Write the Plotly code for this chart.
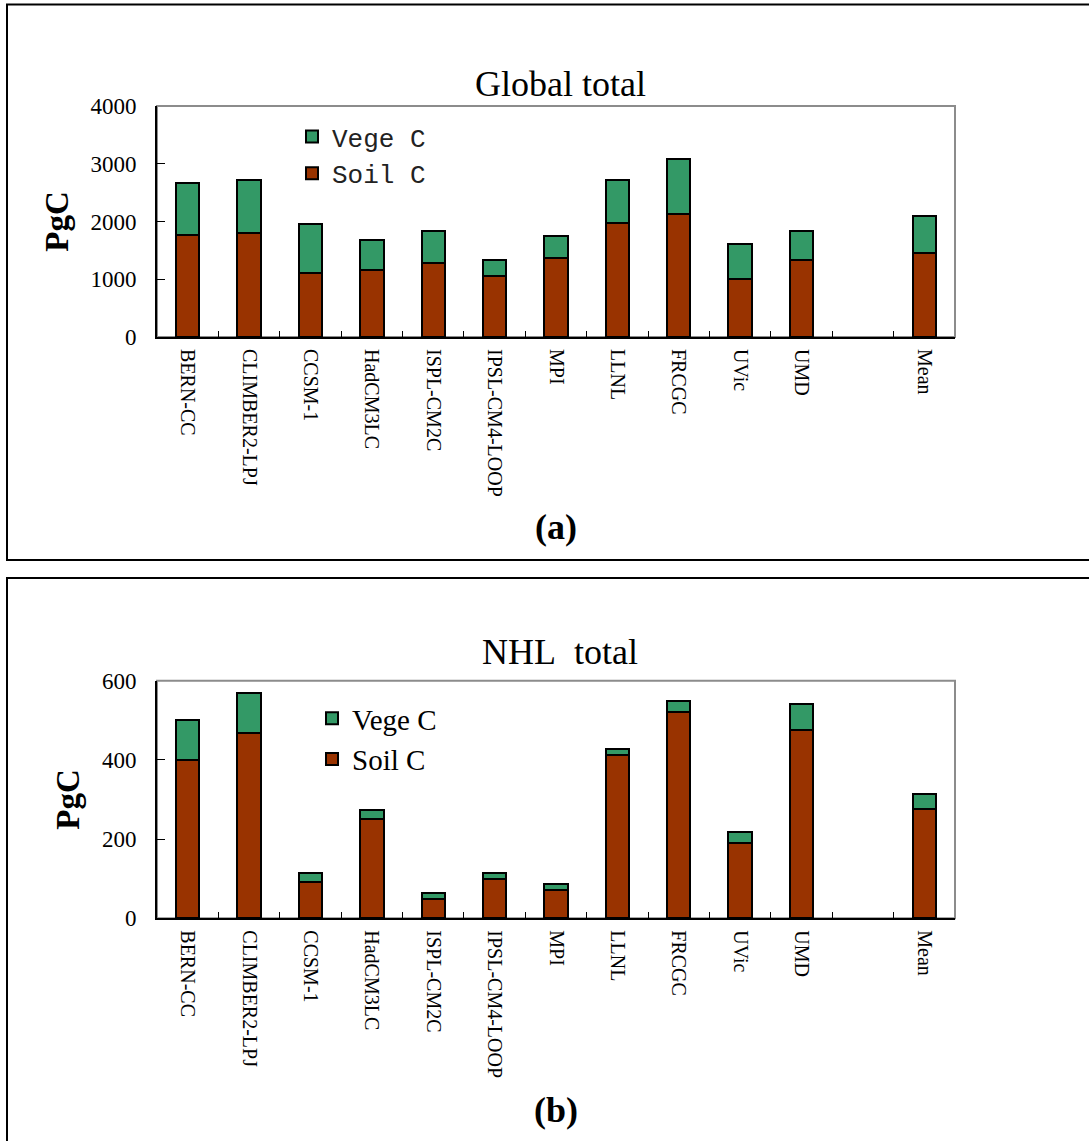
import plotly.graph_objects as go

# Models (one blank slot separates the ensemble mean)
models = ["BERN-CC", "CLIMBER2-LPJ", "CCSM-1", "HadCM3LC", "ISPL-CM2C",
          "IPSL-CM4-LOOP", "MPI", "LLNL", "FRCGC", "UVic", "UMD", " ", "Mean"]

# Global carbon stocks (PgC)
global_soil = [1770, 1800, 1100, 1160, 1280, 1060, 1370, 1980, 2130, 1000, 1335, None, 1455]
global_vege = [890, 920, 850, 520, 550, 280, 375, 740, 950, 610, 495, None, 645]

# Northern high latitude carbon stocks (PgC)
nhl_soil = [400, 468, 91, 250, 50, 100, 72, 413, 522, 191, 476, None, 277]
nhl_vege = [100, 100, 24, 23, 15, 15, 15, 14, 28, 27, 65, None, 37]

global_ticks = [0, 1000, 2000, 3000, 4000]
nhl_ticks = [0, 200, 400, 600]

W, H = 1089, 1141
SOIL = "#993300"
VEGE = "#339966"
SERIF = "Liberation Serif"


def px(x):
    return x / W


def py(y):
    return 1 - y / H


fig = go.Figure()

panels = [
    dict(soil=global_soil, vege=global_vege, xa="x", ya="y", leg="legend"),
    dict(soil=nhl_soil, vege=nhl_vege, xa="x2", ya="y2", leg="legend2"),
]
for p in panels:
    fig.add_trace(go.Bar(x=models, y=p["soil"], name="Soil C", xaxis=p["xa"], yaxis=p["ya"],
                         marker=dict(color=SOIL, line=dict(color="black", width=2)),
                         legend=p["leg"]))
    fig.add_trace(go.Bar(x=models, y=p["vege"], name="Vege C", xaxis=p["xa"], yaxis=p["ya"],
                         marker=dict(color=VEGE, line=dict(color="black", width=2)),
                         legend=p["leg"]))

x_dom = [px(157), px(955)]
xaxis_common = dict(
    type="category", categoryorder="array", categoryarray=models,
    tickson="boundaries", ticks="inside", ticklen=6, tickcolor="black", tickwidth=1,
    tickangle=90, tickfont=dict(family=SERIF, size=20, color="black"),
    showline=True, linecolor="black", linewidth=2, showgrid=False, zeroline=False,
    ticklabelstandoff=6, domain=x_dom, automargin=False,
)
yaxis_common = dict(
    ticks="inside", ticklen=8, tickcolor="black", tickwidth=1,
    tickfont=dict(family=SERIF, size=23, color="black"),
    showline=True, linecolor="black", linewidth=2, showgrid=False, zeroline=False,
    ticklabelstandoff=14, automargin=False,
    title=dict(text="<b>PgC</b>", font=dict(family=SERIF, size=33, color="black"), standoff=12),
)

fig.update_layout(
    width=W, height=H,
    margin=dict(l=0, r=0, t=0, b=0, autoexpand=False),
    paper_bgcolor="white", plot_bgcolor="white",
    barmode="stack", bargap=0.62,
    xaxis=dict(xaxis_common, anchor="y"),
    yaxis=dict(yaxis_common, anchor="x", domain=[py(337), py(106)],
               range=[0, 4000], tickvals=global_ticks),
    xaxis2=dict(xaxis_common, anchor="y2"),
    yaxis2=dict(yaxis_common, anchor="x2", domain=[py(918.3), py(680.7)],
                range=[0, 600], tickvals=nhl_ticks),
    legend=dict(x=px(292), y=py(113), xanchor="left", yanchor="top",
                bgcolor="rgba(0,0,0,0)", traceorder="reversed",
                font=dict(family="Liberation Mono", size=26, color="#222")),
    legend2=dict(x=px(312), y=py(693), xanchor="left", yanchor="top",
                 bgcolor="rgba(0,0,0,0)", traceorder="reversed",
                 font=dict(family=SERIF, size=29, color="black")),
    showlegend=True,
)

# Grey frame on top/right of each plot area
for xr, yr in (("x domain", "y domain"), ("x2 domain", "y2 domain")):
    fig.add_shape(type="rect", xref=xr, yref=yr, x0=0, x1=1, y0=0, y1=1,
                  line=dict(color="#8c8c8c", width=2), layer="below")

# Outer panel frames
fig.add_shape(type="rect", xref="paper", yref="paper",
              x0=px(7), x1=px(1100), y0=py(560), y1=py(4.5),
              line=dict(color="black", width=2))
fig.add_shape(type="rect", xref="paper", yref="paper",
              x0=px(7), x1=px(1100), y0=py(1160), y1=py(578),
              line=dict(color="black", width=2))

# Panel titles and labels
for text, xc, yc, size, bold in (("Global total", 560, 84, 36, False),
                                  ("NHL  total", 560, 652, 36, False),
                                  ("(a)", 556, 527, 36, True),
                                  ("(b)", 556, 1110, 36, True)):
    fig.add_annotation(text=f"<b>{text}</b>" if bold else text.replace("  ", "&nbsp; "),
                       xref="paper", yref="paper", x=px(xc), y=py(yc),
                       xanchor="center", yanchor="middle", showarrow=False,
                       font=dict(family=SERIF, size=size, color="black"))

fig.write_html("out.html")
